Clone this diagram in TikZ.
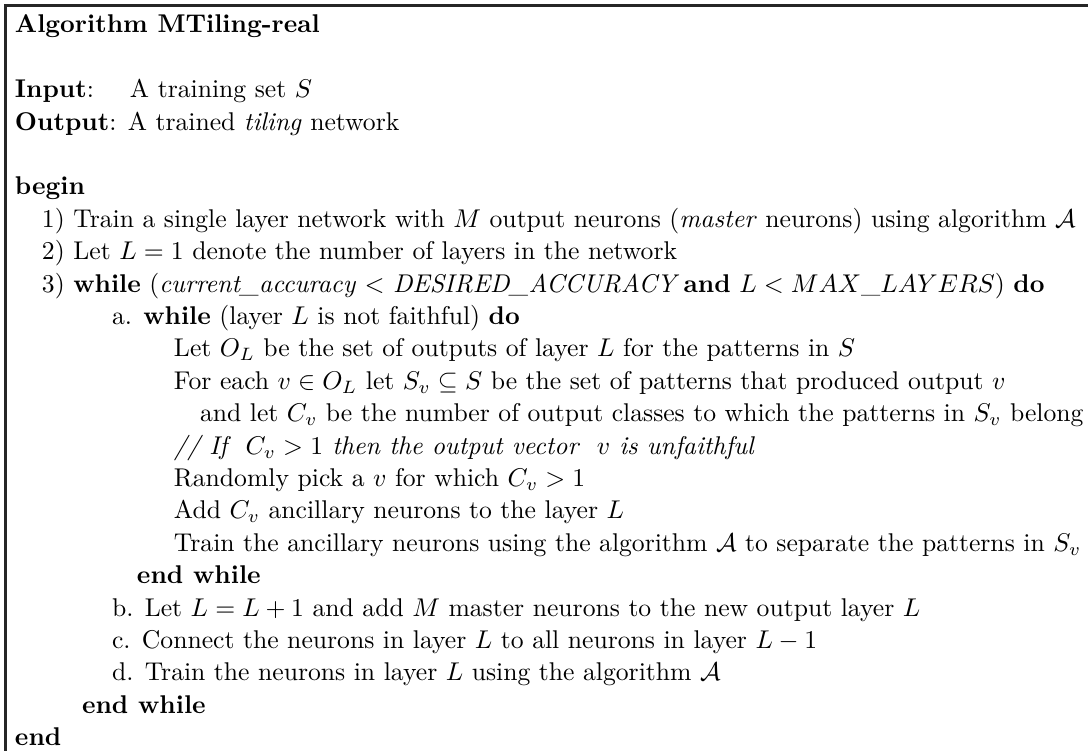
\documentclass[tikz,border=0pt]{standalone}
\usepackage{amssymb}
\begin{document}
\begin{tikzpicture}[x=0.38986pt,y=-0.38986pt,
  ln/.style={anchor=base west,inner sep=0pt,outer sep=0pt},
  frame/.style={line width=0.8pt,black!85}]
\useasboundingbox (0,0) rectangle (1088,751);
% open frame: top rule and left rule
\coordinate (ftop) at (1088,5.5);
\coordinate (fcorner) at (5.5,5.5);
\coordinate (fbot) at (5.5,751);
\draw[frame] (ftop) -- (fcorner) -- (fbot);
% algorithm text, one node per line
\node[ln] (title) at (15,33) {\textbf{Algorithm MTiling-real}};
\node[ln] (in)  at (15,97.8) {\textbf{Input}:};
\node[ln] (inv) at (130,97.8) {A training set $S$};
\node[ln] (out) at (15,130.2) {\textbf{Output}: A trained \textit{tiling} network};
\node[ln] (bgn) at (15,195) {\textbf{begin}};
\node[ln] (s1) at (42,227.4) {1) Train a single layer network with $M$ output neurons (\textit{master} neurons) using algorithm $\mathcal{A}$};
\node[ln] (s2) at (42,259.8) {2) Let $L=1$ denote the number of layers in the network};
\node[ln] (s3) at (42,292.2) {3) \textbf{while} (\textit{current\_accuracy} $<$ \textit{DESIRED\_ACCURACY}\,\textbf{and} $L < MAX\_LAYERS$) \textbf{do}};
\node[ln] (sa) at (112,324.6) {a. \textbf{while} (layer $L$ is not faithful) \textbf{do}};
\node[ln] (w1) at (174,357) {Let $O_L$ be the set of outputs of layer $L$ for the patterns in $S$};
\node[ln] (w2) at (174,389.4) {For each $v \in O_L$ let $S_v \subseteq S$ be the set of patterns that produced output $v$};
\node[ln] (w3) at (200,421.8) {and let $C_v$ be the number of output classes to which the patterns in $S_v$ belong};
\node[ln] (w4) at (174,454.2) {\textit{// If~ $C_v > 1$ then the output vector~ $v$ is unfaithful}};
\node[ln] (w5) at (174,486.6) {Randomly pick a $v$ for which $C_v > 1$};
\node[ln] (w6) at (174,519) {Add $C_v$ ancillary neurons to the layer $L$};
\node[ln] (w7) at (174,551.4) {Train the ancillary neurons using the algorithm $\mathcal{A}$ to separate the patterns in $S_v$};
\node[ln] (ew1) at (137,583.8) {\textbf{end while}};
\node[ln] (sb) at (112,616.2) {b. Let $L = L + 1$ and add $M$ master neurons to the new output layer $L$};
\node[ln] (sc) at (112,648.6) {c. Connect the neurons in layer $L$ to all neurons in layer $L - 1$};
\node[ln] (sd) at (112,681) {d. Train the neurons in layer $L$ using the algorithm $\mathcal{A}$};
\node[ln] (ew2) at (82,713.4) {\textbf{end while}};
\node[ln] (fin) at (15,745.8) {\textbf{end}};
\end{tikzpicture}
\end{document}
